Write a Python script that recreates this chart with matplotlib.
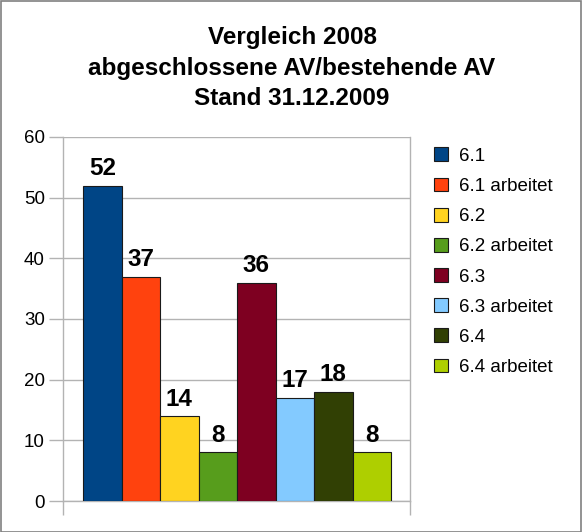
import matplotlib
matplotlib.use("Agg")
import matplotlib.pyplot as plt
from matplotlib.patches import Rectangle

plt.rcParams['font.family'] = ['Liberation Sans', 'DejaVu Sans']

series = ["6.1", "6.1 arbeitet", "6.2", "6.2 arbeitet", "6.3", "6.3 arbeitet", "6.4", "6.4 arbeitet"]
values = [52, 37, 14, 8, 36, 17, 18, 8]
colors = ["#004586", "#ff420e", "#ffd320", "#579d1c", "#7e0021", "#83caff", "#314004", "#aecf00"]
title = "Vergleich 2008\nabgeschlossene AV/bestehende AV\nStand 31.12.2009"
yticks = [0, 10, 20, 30, 40, 50, 60]

W, H = 582, 532
fig = plt.figure(figsize=(W / 100, H / 100), dpi=100)
ax = fig.add_axes([63 / W, 1 - 501 / H, (410 - 63) / W, (501 - 137) / H])

grid_c = "#b3b3b3"
handles = []
for i, (s, v, c) in enumerate(zip(series, values, colors)):
    b = ax.bar(i, v, width=1.0, color=c, edgecolor="#1a1a1a", linewidth=0.8, label=s, zorder=3)
    handles.append(b)
    ax.annotate(str(v), (i, v), xytext=(0, 4), textcoords="offset points",
                ha="center", va="bottom", fontsize=17.5, fontweight="bold", zorder=4)

ax.set_ylim(0, 60)
ax.set_xlim(-1.02, 7.99)
ax.set_yticks(yticks)
ax.set_yticklabels([str(t) for t in yticks], fontsize=13.5)
ax.set_xticks([-1.02, 7.99])
ax.set_xticklabels(["", ""])
ax.tick_params(axis="both", direction="out", length=10, color=grid_c, width=1, pad=3)
ax.yaxis.grid(True, color=grid_c, linewidth=1, zorder=0)
ax.set_axisbelow(True)
for sp in ["left", "right", "bottom"]:
    ax.spines[sp].set_color(grid_c)
    ax.spines[sp].set_linewidth(1)
ax.spines["top"].set_visible(False)

fig.text(292 / W, 1 - 68 / H, title, ha="center", va="center",
         fontsize=17.5, fontweight="bold", linespacing=1.4)

leg = fig.legend(handles=handles, labels=series, loc="upper left",
                 bbox_to_anchor=(426 / W, 1 - 140 / H), frameon=False,
                 fontsize=13.5, handlelength=0.75, handleheight=0.75,
                 handletextpad=0.6, labelspacing=0.68, borderaxespad=0)

fig.patches.append(Rectangle((0.5 / W, 0.5 / H), 1 - 1.5 / W, 1 - 1.5 / H,
                             transform=fig.transFigure, fill=False,
                             edgecolor="#808080", linewidth=1.2))

fig.savefig("out.png", dpi=100)
